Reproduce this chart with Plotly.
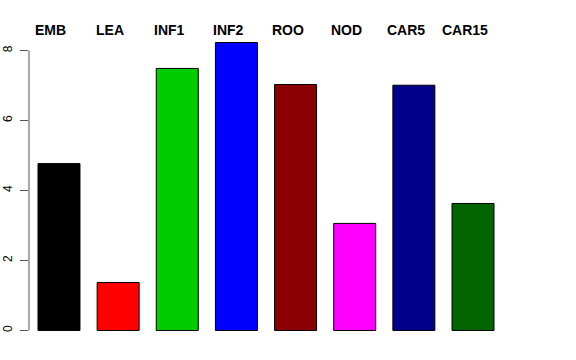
import plotly.graph_objects as go

categories = ["EMB", "LEA", "INF1", "INF2", "ROO", "NOD", "CAR5", "CAR15"]
values = [4.77, 1.37, 7.49, 8.23, 7.03, 3.06, 7.01, 3.63]
colors = ["#000000", "#FF0000", "#00CD00", "#0000FF", "#8B0000", "#FF00FF", "#00008B", "#006400"]
y_ticks = [0, 2, 4, 6, 8]

positions = list(range(len(categories)))

fig = go.Figure()
fig.add_trace(go.Bar(
    x=positions, y=values,
    marker=dict(color=colors, line=dict(color="black", width=1)),
    width=0.71,
    hoverinfo="skip",
))

annotations = []
for p, c in zip(positions, categories):
    annotations.append(dict(
        x=p, y=1, xref="x", yref="paper", text="<b>%s</b>" % c,
        showarrow=False, xanchor="center", yanchor="middle", yshift=1, xshift=-8,
        font=dict(family="Liberation Sans, Arial, sans-serif", size=14, color="black"),
    ))

fig.update_layout(
    width=576, height=360,
    margin=dict(l=29, r=72.5, t=31, b=17.5, autoexpand=False),
    plot_bgcolor="white", paper_bgcolor="white",
    showlegend=False,
    annotations=annotations,
    shapes=[dict(type="line", xref="paper", yref="y", x0=0, x1=0, y0=0, y1=8,
                 line=dict(color="#555555", width=1))],
    xaxis=dict(range=[-0.507, 7.507], showticklabels=False, showgrid=False,
               zeroline=False, showline=False, ticks="", automargin=False),
    yaxis=dict(range=[-0.33, 8.56], tickvals=y_ticks, ticktext=[str(v) for v in y_ticks],
               showgrid=False, zeroline=False, showline=False, automargin=False,
               ticks="outside", ticklen=8, tickcolor="#555555", tickwidth=1,
               tickangle=-90, ticklabelstandoff=3,
               tickfont=dict(family="Liberation Sans, Arial, sans-serif", size=12, color="black")),
    bargap=0.29,
)

fig.write_html("out.html", config={"displayModeBar": False},
               post_script="document.body.style.margin='0';")
